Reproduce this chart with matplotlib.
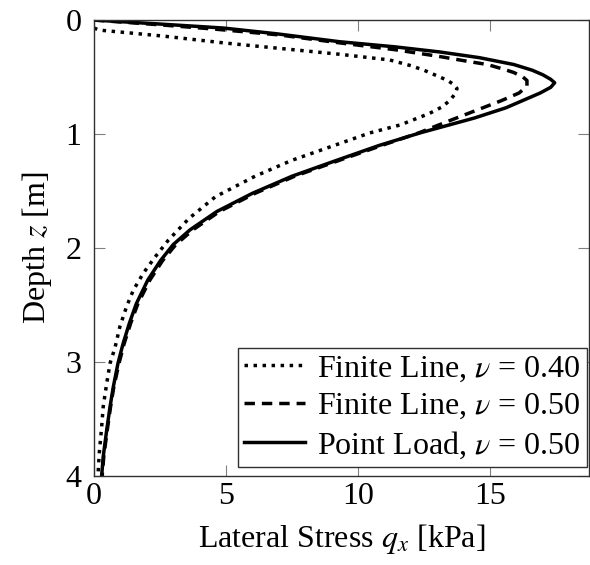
import matplotlib
matplotlib.use('Agg')
import matplotlib.pyplot as plt

plt.rcParams.update({
    'font.family': 'Liberation Serif',
    'mathtext.fontset': 'stix',
    'font.size': 23,
    'xtick.direction': 'in',
    'ytick.direction': 'in',
    'xtick.top': True,
    'ytick.right': True,
})

# depth z [m] and lateral stress q_x [kPa]
z_fl40 = [0.07, 0.088, 0.14, 0.20, 0.25, 0.30, 0.35, 0.40, 0.44, 0.49, 0.53,
          0.57, 0.60, 0.64, 0.70, 0.76, 0.82, 0.92, 0.99, 1.10, 1.23, 1.37,
          1.55, 1.74, 1.93, 2.08, 2.22, 2.37, 2.51, 2.69, 2.87, 3.01, 3.19,
          3.39, 3.57, 3.80, 4.00]
q_fl40 = [0.0, 0.2, 2.6, 4.9, 7.1, 9.3, 11.2, 12.0, 12.5, 13.0, 13.4, 13.65,
          13.75, 13.7, 13.5, 13.2, 12.7, 11.6, 10.45, 9.1, 7.5, 6.1, 4.6, 3.6,
          2.82, 2.31, 1.87, 1.49, 1.24, 0.98, 0.80, 0.61, 0.48, 0.35, 0.29,
          0.20, 0.15]

z_fl50 = [0.0, 0.04, 0.08, 0.13, 0.20, 0.26, 0.32, 0.36, 0.39, 0.43, 0.46,
          0.50, 0.53, 0.58, 0.64, 0.71, 0.79, 0.88, 0.99, 1.10, 1.23, 1.37,
          1.52, 1.68, 1.84, 1.97, 2.11, 2.28, 2.49, 2.66, 2.84, 3.01, 3.22,
          3.39, 3.60, 3.83, 4.00]
q_fl50 = [0.0, 2.4, 4.6, 7.0, 9.3, 11.4, 13.1, 14.1, 14.9, 15.5, 15.9, 16.25,
          16.4, 16.4, 16.1, 15.4, 14.5, 13.5, 12.3, 10.9, 9.3, 7.6, 6.1, 4.75,
          3.75, 3.1, 2.6, 2.12, 1.66, 1.39, 1.14, 0.95, 0.75, 0.63, 0.50,
          0.37, 0.31]

z_pl50 = [0.0, 0.035, 0.07, 0.12, 0.19, 0.235, 0.28, 0.33, 0.39, 0.44, 0.48,
          0.52, 0.55, 0.59, 0.64, 0.70, 0.77, 0.86, 0.99, 1.10, 1.23, 1.37,
          1.52, 1.68, 1.84, 1.97, 2.11, 2.28, 2.49, 2.66, 2.84, 3.01, 3.22,
          3.39, 3.60, 3.83, 4.00]
q_pl50 = [0.0, 2.5, 4.9, 6.9, 9.3, 11.4, 13.1, 14.6, 15.9, 16.6, 17.0, 17.3,
          17.45, 17.3, 16.9, 16.3, 15.6, 14.4, 12.35, 10.8, 9.2, 7.5, 6.0, 4.65,
          3.64, 3.0, 2.52, 2.04, 1.6, 1.34, 1.1, 0.91, 0.73, 0.61, 0.48,
          0.35, 0.29]

fig = plt.figure(figsize=(5.9, 5.65), dpi=100)
ax = fig.add_axes([0.1593, 0.1575, 0.839, 0.807])

ax.plot(q_fl40, z_fl40, color='black', lw=2.5, ls=(0, (1, 1.6)),
        label=r'Finite Line, $\nu$ = 0.40')
ax.plot(q_fl50, z_fl50, color='black', lw=2.5, ls=(0, (3, 2)),
        label=r'Finite Line, $\nu$ = 0.50')
ax.plot(q_pl50, z_pl50, color='black', lw=2.5, ls='-',
        label=r'Point Load, $\nu$ = 0.50')

ax.set_xlim(0, 18.75)
ax.set_ylim(4, 0)
ax.set_xticks([0, 5, 10, 15])
ax.set_yticks([0, 1, 2, 3, 4])
ax.tick_params(length=8, width=0.8, color='#808080', pad=4)
ax.tick_params(axis='y', pad=9)
for s in ax.spines.values():
    s.set_color('#303030')
    s.set_linewidth(1.0)

ax.set_xlabel(r'Lateral Stress $q_x$ [kPa]', labelpad=8)
ax.set_ylabel(r'Depth $z$ [m]', labelpad=8)

leg = ax.legend(loc='lower right', bbox_to_anchor=(0.996, 0.02),
                fontsize=23, frameon=True, fancybox=False,
                framealpha=1, edgecolor='#303030', borderaxespad=0,
                handlelength=1.9, handletextpad=0.4, labelspacing=0.25,
                borderpad=0.2)
leg.get_frame().set_linewidth(1.0)

fig.savefig('out.png', dpi=100)
